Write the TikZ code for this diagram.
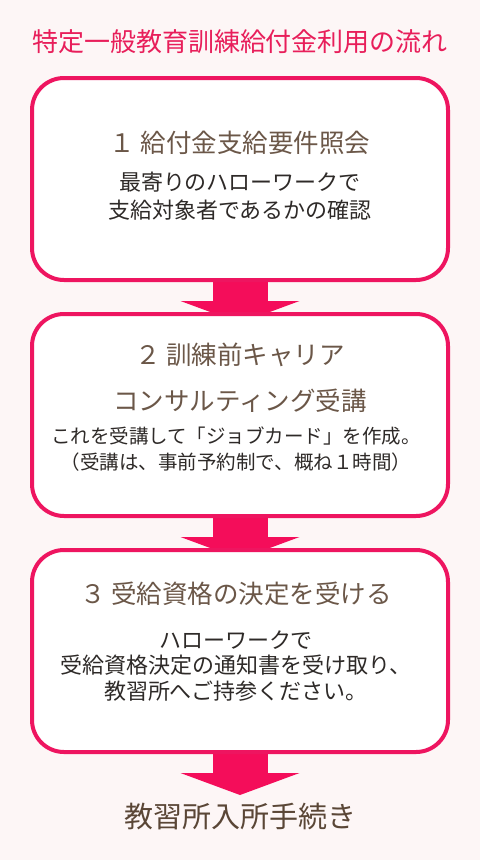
\documentclass[tikz,border=0pt]{standalone}
\usepackage{fontspec}
\setmainfont{Noto Sans CJK JP}
\usetikzlibrary{positioning,calc,arrows.meta}

\definecolor{pagebg}{HTML}{FDF6F6}
\definecolor{boxpink}{HTML}{EE1560}
\definecolor{arrowpink}{HTML}{F40D5A}
\definecolor{headpink}{HTML}{E81E5A}
\definecolor{titlebrown}{HTML}{6B5748}
\definecolor{bodygray}{HTML}{2E2A28}
\definecolor{endbrown}{HTML}{5A4636}

\pgfdeclarelayer{paper}
\pgfdeclarelayer{under}
\pgfsetlayers{paper,under,main}

\begin{document}
\begin{tikzpicture}[x=1pt, y=-1pt, stepbox/.style={draw=boxpink, line width=4pt, fill=white, rounded corners=32pt, minimum width=416pt, minimum height=202pt, inner sep=0pt, outer sep=0pt}, flow/.style={draw=arrowpink, line width=55pt, shorten >=-9pt, -{Triangle[width=119pt, length=22pt, line width=0pt]}}, pagetitle/.style={text=headpink, font=\fontsize{26}{30}\selectfont}, boxtitle/.style={text=titlebrown, font=\fontsize{25.5}{30}\selectfont}, boxbody/.style={text=bodygray, align=center, font=\fontsize{22}{28}\selectfont}, endnote/.style={text=endbrown, font=\fontsize{29}{34}\selectfont}]

\useasboundingbox (0,0) rectangle (480,860);
\begin{pgfonlayer}{paper}
\fill[pagebg] (0,0) rectangle (480,860);
\end{pgfonlayer}

\node[pagetitle] (heading) at (240,42) {特定一般教育訓練給付金利用の流れ};

\node[stepbox] (box1) at (240,179) {};
\node[stepbox] (box2) [below=34pt of box1] {};
\node[stepbox] (box3) [below=34pt of box2] {};
\coordinate[below=43pt of box3] (tip);

% step 1
\node[boxtitle] (title1) at ($(box1.north)+(0,65)$) {１ 給付金支給要件照会};
\node[boxbody] (body1) at ($(box1.north)+(0,118)$) {最寄りのハローワークで\\支給対象者であるかの確認};

% step 2
\node[boxtitle] (title2a) at ($(box2.north)+(0,41)$) {２ 訓練前キャリア};
\node[boxtitle] (title2b) at ($(box2.north)+(0,87)$) {コンサルティング受講};
\node[boxbody, font=\fontsize{19.5}{26}\selectfont] (body2) at ($(box2.north)+(-4,135)$) {これを受講して「ジョブカード」を作成。\\（受講は、事前予約制で、概ね１時間）};

% step 3
\node[boxtitle] (title3) at ($(box3.north)+(-4,44)$) {３ 受給資格の決定を受ける};
\node[boxbody, font=\fontsize{22}{25.5}\selectfont] (body3) at ($(box3.north)+(-4,116)$) {ハローワークで\\受給資格決定の通知書を受け取り、\\教習所へご持参ください。};

\node[endnote] (enroll) at ($(box3.south)+(0,64)$) {教習所入所手続き};

\begin{pgfonlayer}{under}
\path
    (box1.south) edge[flow] (box2.north)
    (box2.south) edge[flow] (box3.north)
    (box3.south) edge[flow, shorten >=0pt] (tip);
\end{pgfonlayer}
\end{tikzpicture}
\end{document}
